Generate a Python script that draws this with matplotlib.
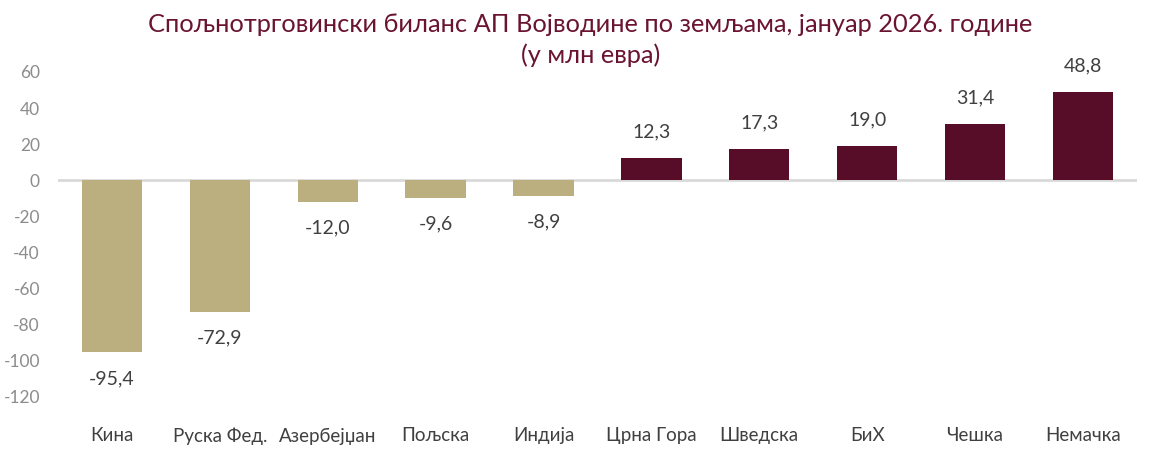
import matplotlib.pyplot as plt
import numpy as np

# DATA
countries = ["Кина", "Руска Фед.", "Азербејџан", "Пољска", "Индија",
             "Црна Гора", "Шведска", "БиХ", "Чешка", "Немачка"]
balance = [-95.4, -72.9, -12.0, -9.6, -8.9, 12.3, 17.3, 19.0, 31.4, 48.8]
yticks = [60, 40, 20, 0, -20, -40, -60, -80, -100, -120]

NEG_COLOR = "#BCAF7F"
POS_COLOR = "#570D27"
TITLE_COLOR = "#6A1430"

plt.rcParams["font.family"] = ["Lato", "DejaVu Sans"]

fig = plt.figure(figsize=(11.53, 4.5), dpi=100)
ax = fig.add_axes([0.0503, 0.118, 0.9357, 0.722])

x = np.arange(len(countries))
colors = [POS_COLOR if v > 0 else NEG_COLOR for v in balance]
ax.bar(x, balance, width=0.56, color=colors, zorder=2)

for xi, v in zip(x, balance):
    label = f"{v:.1f}".replace(".", ",")
    off = 26 if v > 0 else -26
    ax.annotate(label, (xi, v), xytext=(0, off), textcoords="offset pixels",
                ha="center", va="center", fontsize=14, color="#404040")

ax.axhline(0, color="#D9D9D9", linewidth=2, zorder=1)
ax.set_xlim(-0.5, len(countries) - 0.5)
ax.set_ylim(-120, 60)
ax.set_yticks(yticks)
ax.set_yticklabels([str(t) for t in yticks], fontsize=12.5, color="#8C8C8C")
ax.set_xticks(x)
ax.set_xticklabels(countries, fontsize=13.5, color="#404040")
ax.tick_params(axis="y", length=0, pad=13)
ax.tick_params(axis="x", length=0, pad=22)
for s in ax.spines.values():
    s.set_visible(False)

fig.text(0.512, 0.97, "Спољнотрговински биланс АП Војводине по земљама, јануар 2026. године\n(у млн евра)",
         ha="center", va="top", fontsize=18.3, color=TITLE_COLOR, linespacing=1.35)

fig.savefig("out.png", dpi=100)
